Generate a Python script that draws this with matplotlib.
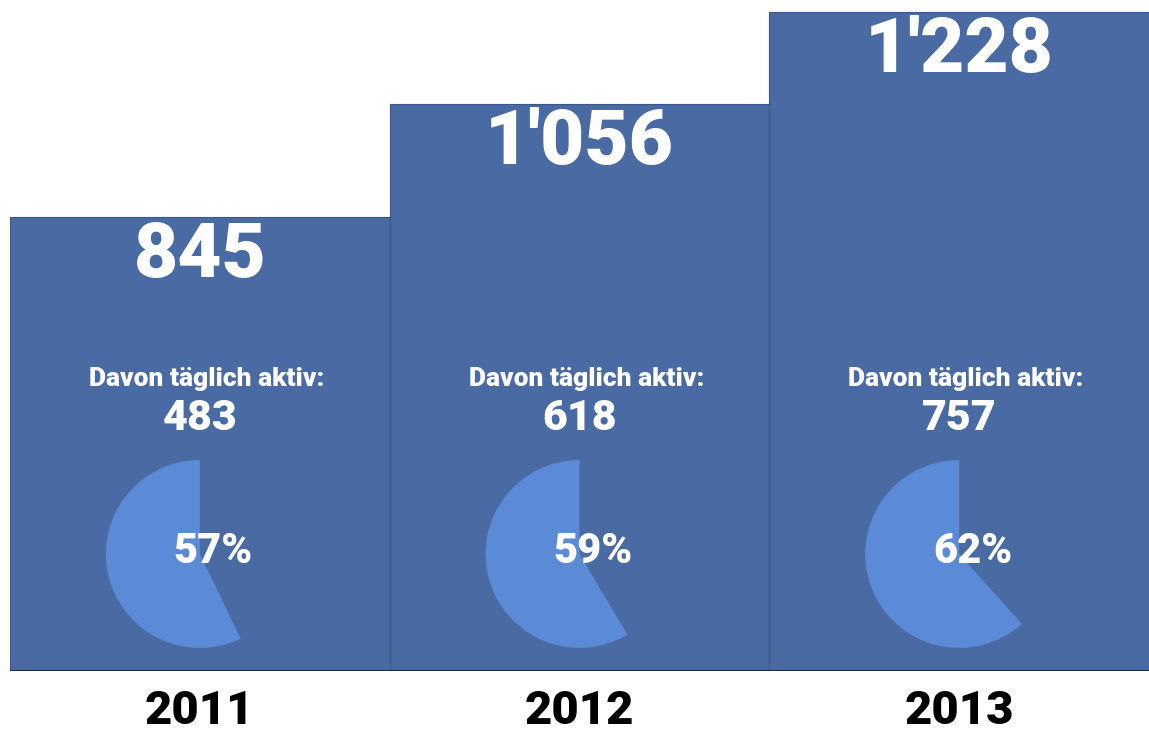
import matplotlib
matplotlib.use("Agg")
import matplotlib.pyplot as plt

years = ["2011", "2012", "2013"]
users_total = [845, 1056, 1228]
users_daily = [483, 618, 757]

bar_color = "#4a6aa3"
pie_color = "#5b8bd6"
fonts = ["Roboto", "DejaVu Sans"]


def swiss(n):
    return "{:,}".format(n).replace(",", "'")


fig = plt.figure(figsize=(11.49, 7.36), dpi=100)
ax = fig.add_axes([10 / 1149, 65 / 736, 1 - 10 / 1149, 671 / 736])

x = list(range(len(years)))
ax.bar(x, users_total, width=1.0, color=bar_color, edgecolor="#3b5688", linewidth=0.8)
ax.axhline(0, color="#1c2740", linewidth=2.2, zorder=5)
ax.set_xlim(-0.5, 2.5)
ax.set_ylim(0, 1250)

for i, (tot, act) in enumerate(zip(users_total, users_daily)):
    ax.annotate(swiss(tot), (i, tot), xytext=(0, -39), textcoords="offset pixels",
                ha="center", va="center", color="white", fontsize=55,
                fontweight="black", family=fonts)
    ax.text(i + 0.018, 544, "Davon täglich aktiv:", ha="center", va="center",
            color="white", fontsize=19, fontweight="black", family=fonts)
    ax.text(i, 471, str(act), ha="center", va="center", color="white",
            fontsize=31, fontweight="black", family=fonts)

    # share of daily active users as a single wedge
    pax = ax.inset_axes([i - 0.25, 43, 0.5, 350], transform=ax.transData)
    pax.pie([act, tot - act], startangle=90, counterclock=True,
            colors=[pie_color, "none"], radius=1.0)
    pax.set_xlim(-1, 1)
    pax.set_ylim(-1, 1)
    pax.axis("off")
    ax.text(i + 0.035, 222, "{:.0f}%".format(100 * act / tot), ha="center",
            va="center", color="white", fontsize=30, fontweight="black",
            family=fonts, zorder=10)

ax.set_xticks(x)
ax.set_xticklabels(years, fontsize=34, fontweight="black", family=fonts)
ax.tick_params(axis="x", length=0, pad=13)
ax.set_yticks([])
for s in ax.spines.values():
    s.set_visible(False)

fig.savefig("out.png", dpi=100)
